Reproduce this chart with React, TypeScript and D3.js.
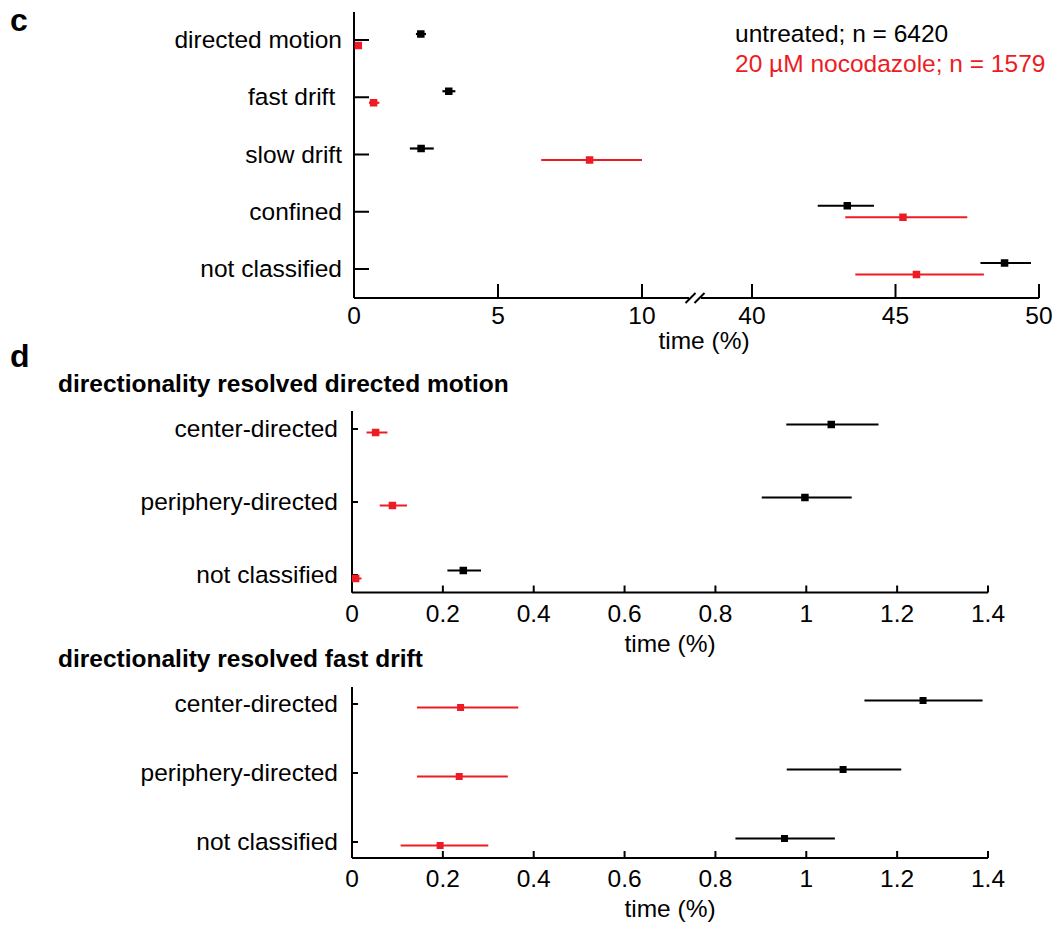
import React from 'react';
import * as d3 from 'd3';

// ---------- Data ----------
const cCategories = ['directed motion', 'fast drift ', 'slow drift', 'confined', 'not classified'];
const cUntreated = [2.32, 3.29, 2.33, 43.32, 48.8];
const cUntreatedLo = [2.15, 3.07, 1.94, 42.29, 47.96];
const cUntreatedHi = [2.5, 3.52, 2.77, 44.25, 49.72];
const cNocodazole = [0.15, 0.68, 8.18, 45.26, 45.73];
const cNocodazoleLo = [0.1, 0.52, 6.5, 43.25, 43.6];
const cNocodazoleHi = [0.2, 0.88, 10.0, 47.5, 48.08];
const cTicksLeft = [0, 5, 10];
const cTicksRight = [40, 45, 50];

const dCategories = ['center-directed', 'periphery-directed', 'not classified'];
const dmUntreated = [1.055, 0.997, 0.245];
const dmUntreatedLo = [0.956, 0.902, 0.21];
const dmUntreatedHi = [1.159, 1.1, 0.284];
const dmNocodazole = [0.052, 0.089, 0.008];
const dmNocodazoleLo = [0.032, 0.061, 0.0];
const dmNocodazoleHi = [0.078, 0.121, 0.021];

const fdUntreated = [1.257, 1.081, 0.952];
const fdUntreatedLo = [1.128, 0.957, 0.844];
const fdUntreatedHi = [1.388, 1.209, 1.063];
const fdNocodazole = [0.239, 0.236, 0.194];
const fdNocodazoleLo = [0.143, 0.143, 0.107];
const fdNocodazoleHi = [0.366, 0.343, 0.3];
const dTicks = [0, 0.2, 0.4, 0.6, 0.8, 1, 1.2, 1.4];

const legendLabels = ['untreated; n = 6420', '20 µM nocodazole; n = 1579'];

const RED = '#ed1c24';
const BLACK = '#000000';
const FONT = 'Liberation Sans, Arial, Helvetica, sans-serif';
const FS = 24.5;

type Series = { v: number[]; lo: number[]; hi: number[]; color: string; off: number };

function Marks({ cats, series, x, y, size, sw }: { cats: string[]; series: Series[]; x: (v: number) => number; y: d3.ScalePoint<string>; size: number; sw: number }) {
  return (
    <g>
      {series.map((s, si) =>
        cats.map((c, i) => {
          const cy = (y(c) as number) + s.off;
          return (
            <g key={si + '-' + i}>
              <line x1={x(s.lo[i])} x2={x(s.hi[i])} y1={cy} y2={cy} stroke={s.color} strokeWidth={sw} />
              <rect x={x(s.v[i]) - size / 2} y={cy - size / 2} width={size} height={size} fill={s.color} />
            </g>
          );
        })
      )}
    </g>
  );
}

function YAxis({ cats, y, x0, top, bottom, tickLen, labelX }: { cats: string[]; y: d3.ScalePoint<string>; x0: number; top: number; bottom: number; tickLen: number; labelX: number }) {
  return (
    <g>
      <line x1={x0} x2={x0} y1={top} y2={bottom} stroke="#000" strokeWidth={2} />
      {cats.map((c) => (
        <g key={c}>
          <line x1={x0} x2={x0 + tickLen} y1={y(c)} y2={y(c)} stroke="#000" strokeWidth={2} />
          <text x={labelX} y={(y(c) as number) + 8} textAnchor="end" fontSize={FS} style={{ whiteSpace: 'pre' }}>
            {c}
          </text>
        </g>
      ))}
    </g>
  );
}

export default function App() {
  // ----- panel c -----
  const cAxisY = 298;
  const cLeft = d3.scaleLinear().domain([0, 10]).range([354, 642]);
  const cRight = d3.scaleLinear().domain([40, 50]).range([752, 1039]);
  const xc = (v: number) => (v <= 25 ? cLeft(v) : cRight(v));
  const yc = d3.scalePoint<string>().domain(cCategories).range([40, 269]);
  const breakX = (cLeft(10) + cRight(40)) / 2 - 2;

  // ----- panel d -----
  const xd = d3.scaleLinear().domain([0, 1.4]).range([352, 988]);
  const yd1 = d3.scalePoint<string>().domain(dCategories).range([429, 575]);
  const yd2 = d3.scalePoint<string>().domain(dCategories).range([704, 842]);
  const d1AxisY = 592.5;
  const d2AxisY = 858;

  const cSeries: Series[] = [
    { v: cUntreated, lo: cUntreatedLo, hi: cUntreatedHi, color: BLACK, off: -6 },
    { v: cNocodazole, lo: cNocodazoleLo, hi: cNocodazoleHi, color: RED, off: 5.5 },
  ];
  const dmSeries: Series[] = [
    { v: dmUntreated, lo: dmUntreatedLo, hi: dmUntreatedHi, color: BLACK, off: -4.5 },
    { v: dmNocodazole, lo: dmNocodazoleLo, hi: dmNocodazoleHi, color: RED, off: 3.5 },
  ];
  const fdSeries: Series[] = [
    { v: fdUntreated, lo: fdUntreatedLo, hi: fdUntreatedHi, color: BLACK, off: -3.5 },
    { v: fdNocodazole, lo: fdNocodazoleLo, hi: fdNocodazoleHi, color: RED, off: 3.5 },
  ];

  const dXAxis = (axisY: number, labelY: number, titleY: number) => (
    <g>
      <line x1={xd(0)} x2={xd(1.4)} y1={axisY} y2={axisY} stroke="#000" strokeWidth={2} />
      {dTicks.map((t) => (
        <g key={t}>
          <line x1={xd(t)} x2={xd(t)} y1={axisY} y2={axisY - 7} stroke="#000" strokeWidth={2} />
          <text x={xd(t)} y={labelY} textAnchor="middle" fontSize={FS}>
            {String(t)}
          </text>
        </g>
      ))}
      <text x={(xd(0) + xd(1.4)) / 2} y={titleY} textAnchor="middle" fontSize={FS}>
        time (%)
      </text>
    </g>
  );

  return (
    <svg width={1061} height={927} style={{ position: 'absolute', left: 0, top: 0, background: '#fff' }} fontFamily={FONT}>
      <rect width={1061} height={927} fill="#fff" />
      {/* panel letters */}
      <text x={10} y={31} fontSize={32} fontWeight="bold">c</text>
      <text x={10} y={367} fontSize={32} fontWeight="bold">d</text>

      {/* ===== panel c ===== */}
      <YAxis cats={cCategories} y={yc} x0={354} top={12} bottom={cAxisY} tickLen={15} labelX={342} />
      <line x1={354} x2={1039} y1={cAxisY} y2={cAxisY} stroke="#000" strokeWidth={2} />
      {[...cTicksLeft.map((t) => ({ t, px: cLeft(t) })), ...cTicksRight.map((t) => ({ t, px: cRight(t) }))].map(({ t, px }) => (
        <g key={t}>
          <line x1={px} x2={px} y1={cAxisY} y2={cAxisY - 14} stroke="#000" strokeWidth={2} />
          <text x={px} y={324} textAnchor="middle" fontSize={FS}>
            {String(t)}
          </text>
        </g>
      ))}
      {/* axis break slashes */}
      <rect x={breakX - 6} y={cAxisY - 2} width={12} height={4} fill="#fff" />
      {[-4.5, 4.5].map((dx) => (
        <line key={dx} x1={breakX + dx - 5} y1={cAxisY + 5} x2={breakX + dx + 5} y2={cAxisY - 5} stroke="#000" strokeWidth={2} />
      ))}
      <text x={704} y={349} textAnchor="middle" fontSize={FS}>time (%)</text>
      <Marks cats={cCategories} series={cSeries} x={xc} y={yc} size={7.5} sw={2.2} />
      <text x={735} y={42} fontSize={FS} fill={BLACK}>{legendLabels[0]}</text>
      <text x={735} y={72} fontSize={FS} fill={RED}>{legendLabels[1]}</text>

      {/* ===== panel d1 ===== */}
      <text x={58} y={392} fontSize={FS} fontWeight="bold">directionality resolved directed motion</text>
      <YAxis cats={dCategories} y={yd1} x0={352} top={411} bottom={d1AxisY} tickLen={6} labelX={338} />
      {dXAxis(d1AxisY, 622, 652)}
      <Marks cats={dCategories} series={dmSeries} x={xd} y={yd1} size={7.5} sw={2} />

      {/* ===== panel d2 ===== */}
      <text x={58} y={667} fontSize={FS} fontWeight="bold">directionality resolved fast drift</text>
      <YAxis cats={dCategories} y={yd2} x0={352} top={687} bottom={d2AxisY} tickLen={6} labelX={338} />
      {dXAxis(d2AxisY, 887, 917)}
      <Marks cats={dCategories} series={fdSeries} x={xd} y={yd2} size={7} sw={2} />
    </svg>
  );
}
